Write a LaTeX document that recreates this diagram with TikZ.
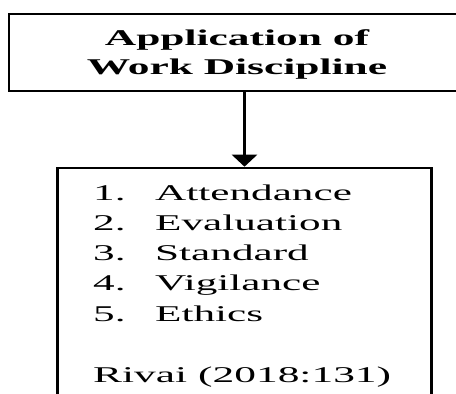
\documentclass[tikz,border=0pt]{standalone}
\usepackage{fontspec}
\setmainfont{Liberation Serif}
\usetikzlibrary{arrows.meta}
\begin{document}
\begin{tikzpicture}[x=1pt,y=-1pt,
  box/.style={draw=black, line width=2.6pt, inner sep=0pt},
  txt/.style={inner sep=0pt, anchor=base west, font=\fontsize{22.5}{27}\selectfont},
  hd/.style={inner sep=0pt, anchor=base, font=\fontsize{22.5}{27}\selectfont\bfseries},
  link/.style={draw=black, line width=2.6pt, -{Triangle[width=25pt,length=12pt]}},
]
\useasboundingbox (0,0) rectangle (456,394);
\begin{scope}
\clip (0,0) rectangle (456,394);
\node[box, minimum width=456pt, minimum height=77pt] (top) at (237,52.5) {};
\node[box, minimum width=374.4pt, minimum height=262pt] (bottom) at (244.5,299) {};
\node[hd] (t1) at (237,45) {\scalebox{1.93}[1]{Application of}};
\node[hd] (t2) at (237,74) {\scalebox{1.93}[1]{Work Discipline}};
\node[txt] (n1) at (93,200) {\scalebox{1.92}[1]{1.}};
\node[txt] (i1) at (155,200) {\scalebox{1.92}[1]{Attendance}};
\node[txt] (n2) at (93,230) {\scalebox{1.92}[1]{2.}};
\node[txt] (i2) at (155,230) {\scalebox{1.92}[1]{Evaluation}};
\node[txt] (n3) at (93,260) {\scalebox{1.92}[1]{3.}};
\node[txt] (i3) at (155,260) {\scalebox{1.92}[1]{Standard}};
\node[txt] (n4) at (93,290) {\scalebox{1.92}[1]{4.}};
\node[txt] (i4) at (155,290) {\scalebox{1.92}[1]{Vigilance}};
\node[txt] (n5) at (93,321) {\scalebox{1.92}[1]{5.}};
\node[txt] (i5) at (155,321) {\scalebox{1.92}[1]{Ethics}};
\node[txt] (src) at (93,382) {\scalebox{1.93}[1]{Rivai (2018:131)}};
\draw[link] (top.south -| bottom.north) -- (bottom.north);
\end{scope}
\end{tikzpicture}
\end{document}
